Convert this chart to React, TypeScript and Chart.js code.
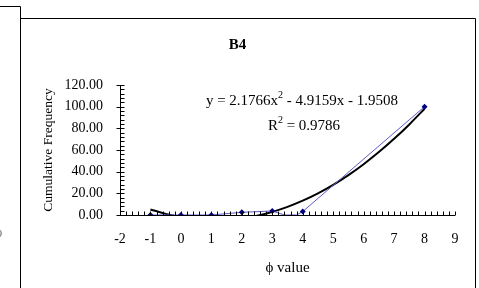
import React, { useEffect, useRef } from "react";
import { Chart, registerables } from "chart.js";

Chart.register(...registerables);

// Observed data (phi value vs cumulative frequency)
const phiValues = [-1, 0, 1, 2, 3, 3.4, 3.8, 4, 8];
const cumFreq = [0, 0, 0, 2.5, 3.7, 0, 0, 3.2, 100];
const markerVisible = [true, true, true, true, true, false, false, true, true];

// Polynomial trendline, values
const trendX = [-1, -0.5, 0, 0.5, 1, 1.5, 2, 2.5, 3, 3.5, 4, 4.5, 5, 5.5, 6, 6.5, 7, 7.5, 8];
const trendY = [5.14, 1.05, -1.95, -3.87, -4.69, -4.43, -3.08, -0.64, 2.89, 7.51, 13.21, 20.0, 27.88, 36.85, 46.91, 58.06, 70.29, 83.61, 98.02];

const xTickValues = [-2, -1, 0, 1, 2, 3, 4, 5, 6, 7, 8, 9];
const yTickValues = [0, 20, 40, 60, 80, 100, 120];

const chartTitle = "B4";
const xTitle = "\u03d5 value";
const yTitle = "Cumulative Frequency";
const equationText = "y = 2.1766x";
const equationRest = " - 4.9159x - 1.9508";
const r2Value = " = 0.9786";

const FONT = "'Liberation Serif', 'Times New Roman', serif";

const decorPlugin = {
  id: "decor",
  afterDraw(chart: any) {
    const ctx = chart.ctx;
    const xs = chart.scales.x;
    const ys = chart.scales.y;
    ctx.save();
    ctx.strokeStyle = "#000";
    ctx.lineWidth = 1;
    // outer frames
    ctx.beginPath();
    ctx.moveTo(0, 6.5);
    ctx.lineTo(20.5, 6.5);
    ctx.lineTo(20.5, 288);
    ctx.moveTo(20.5, 18.5);
    ctx.lineTo(475.5, 18.5);
    ctx.lineTo(475.5, 288);
    ctx.stroke();

    const x0 = Math.round(xs.getPixelForValue(-2)) + 0.5;
    const y0 = Math.round(ys.getPixelForValue(0)) + 0.5;
    const xEnd = xs.getPixelForValue(9);
    const yTop = ys.getPixelForValue(120);
    ctx.beginPath();
    // axes lines
    ctx.moveTo(x0, yTop);
    ctx.lineTo(x0, y0);
    ctx.lineTo(xEnd, y0);
    // y ticks
    for (let v = 0; v <= 120.001; v += 4) {
      const py = Math.round(ys.getPixelForValue(v)) + 0.5;
      if (Math.abs(v % 20) < 0.001) {
        ctx.moveTo(x0 - 4, py);
        ctx.lineTo(x0 + 4, py);
      } else {
        ctx.moveTo(x0, py);
        ctx.lineTo(x0 + 4, py);
      }
    }
    // x ticks
    for (let i = 0; i <= 55; i++) {
      const v = -2 + i * 0.2;
      const px = Math.round(xs.getPixelForValue(v)) + 0.5;
      ctx.moveTo(px, y0);
      ctx.lineTo(px, y0 - 4);
    }
    ctx.stroke();

    // equation text
    ctx.fillStyle = "#000";
    ctx.textBaseline = "alphabetic";
    const f = `15px ${FONT}`;
    const fs = `10px ${FONT}`;
    ctx.font = f;
    const w1 = ctx.measureText(equationText).width;
    const w3 = ctx.measureText(equationRest).width;
    ctx.font = fs;
    const w2 = ctx.measureText("2").width;
    const total = w1 + w2 + w3;
    const cx = 302;
    const sx = cx - total / 2;
    const by = 105;
    ctx.font = f;
    ctx.fillText(equationText, sx, by);
    ctx.font = fs;
    ctx.fillText("2", sx + w1, by - 7);
    ctx.font = f;
    ctx.fillText(equationRest, sx + w1 + w2, by);

    const rw1 = ctx.measureText("R").width;
    const rw3 = ctx.measureText(r2Value).width;
    const rtotal = rw1 + w2 + rw3;
    const rx = 304 - rtotal / 2;
    const rby = 130;
    ctx.fillText("R", rx, rby);
    ctx.font = fs;
    ctx.fillText("2", rx + rw1, rby - 7);
    ctx.font = f;
    ctx.fillText(r2Value, rx + rw1 + w2, rby);

    // neighbouring chart fragment
    ctx.fillStyle = "#555";
    ctx.font = `10px ${FONT}`;
    ctx.fillText("9", -3, 237);
    ctx.restore();
  },
};

export default function App() {
  const ref = useRef<HTMLCanvasElement | null>(null);
  useEffect(() => {
    if (!ref.current) return;
    const chart = new Chart(ref.current, {
      type: "scatter",
      data: {
        datasets: [
          {
            label: "trend",
            data: trendX.map((x, i) => ({ x, y: trendY[i] })),
            showLine: true,
            borderColor: "#000",
            borderWidth: 2,
            pointRadius: 0,
            tension: 0.2,
            order: 1,
          },
          {
            label: "observed",
            data: phiValues.map((x, i) => ({ x, y: cumFreq[i] })),
            showLine: true,
            borderColor: "#5a5ac8",
            borderWidth: 1,
            pointStyle: "rectRot",
            pointRadius: (c: any) => (markerVisible[c.dataIndex] ? 3 : 0),
            pointBackgroundColor: "#000080",
            pointBorderColor: "#000080",
            pointBorderWidth: 0,
            order: 0,
          },
        ],
      },
      options: {
        responsive: false,
        animation: false,
        devicePixelRatio: 1,
        layout: { padding: { left: 20, right: 24, top: 0, bottom: 0 } },
        plugins: {
          legend: { display: false },
          tooltip: { enabled: false },
          title: {
            display: true,
            text: chartTitle,
            color: "#000",
            font: { family: FONT, size: 15, weight: "bold" },
            padding: { top: 36, bottom: 31 },
          },
        },
        scales: {
          x: {
            type: "linear",
            min: -2,
            max: 9,
            afterBuildTicks: (s: any) => {
              s.ticks = xTickValues.map((v) => ({ value: v }));
            },
            afterFit: (s: any) => {
              s.height = 73;
            },
            ticks: {
              color: "#000",
              font: { family: FONT, size: 14 },
              padding: 16,
              callback: (v: any) => String(v),
            },
            grid: { display: false, drawTicks: false },
            border: { display: false },
            title: {
              display: true,
              text: xTitle,
              color: "#000",
              font: { family: FONT, size: 15 },
              padding: { top: 0, bottom: 11 },
            },
          },
          y: {
            type: "linear",
            min: 0,
            max: 120,
            afterBuildTicks: (s: any) => {
              s.ticks = yTickValues.map((v) => ({ value: v }));
            },
            afterFit: (s: any) => {
              s.width = 100;
            },
            ticks: {
              color: "#000",
              font: { family: FONT, size: 14 },
              padding: 17,
              callback: (v: any) => Number(v).toFixed(2),
            },
            grid: { display: false, drawTicks: false },
            border: { display: false },
            title: {
              display: true,
              text: yTitle,
              color: "#000",
              font: { family: FONT, size: 13.5 },
              padding: { top: 20, bottom: 0 },
            },
          },
        },
      },
      plugins: [decorPlugin],
    });
    return () => chart.destroy();
  }, []);
  return (
    <div style={{ position: "fixed", left: 0, top: 0, width: 479, height: 288, background: "#fff" }}>
      <canvas ref={ref} width={479} height={288} style={{ display: "block" }} />
    </div>
  );
}
